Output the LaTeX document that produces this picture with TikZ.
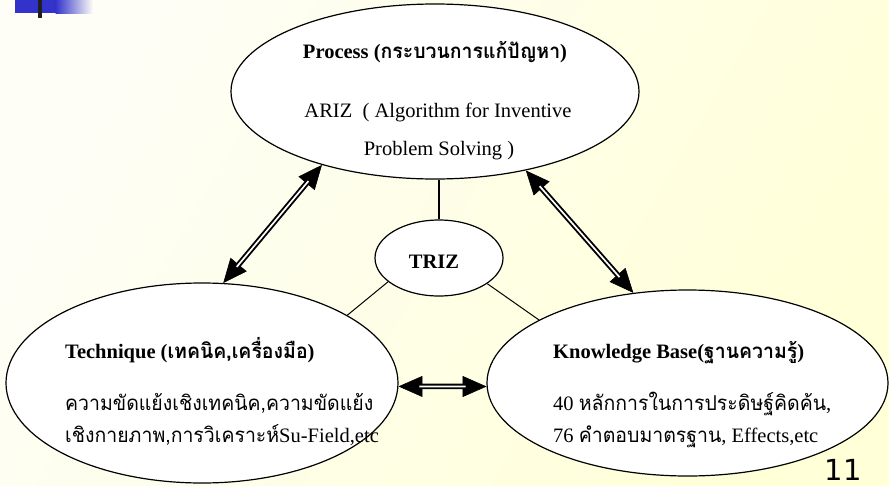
\documentclass[tikz,border=0pt]{standalone}
\usepackage{fontspec}
\setmainfont{Liberation Serif}
\newfontfamily\thai[Script=Thai,FakeStretch=0.95]{Loma}
\newfontfamily\numfont{DejaVu Sans}
\usetikzlibrary{shapes.geometric,arrows.meta}
\definecolor{bgL}{RGB}{254,254,246}
\definecolor{bgR}{RGB}{255,255,216}
\definecolor{barblue}{RGB}{51,51,204}
\tikzset{
  bubble/.style={ellipse, draw=black, line width=1.2pt, fill=white, inner sep=0pt},
  txt/.style={inner sep=0pt, font=\fontsize{20.5}{24}\selectfont},
  btxt/.style={inner sep=0pt, font=\fontsize{20.5}{24}\selectfont\bfseries},
  thinline/.style={draw=black, line width=1pt},
  tipline/.style={{Triangle[length=24pt,width=21pt]}-{Triangle[length=24pt,width=21pt]}, line width=0.6pt},
  shaft/.style={double=white, draw=black, line width=1.9pt, double distance=1.7pt, shorten <=21pt, shorten >=21pt}
}
\begin{document}
\begin{tikzpicture}[x=1pt,y=-1pt]
\useasboundingbox (0,0) rectangle (889,485);
\shade[left color=bgL, right color=bgR, shading angle=60] (0,0) rectangle (889,485);
% top-left bar
\fill[barblue] (15,0) rectangle (56,13);
\shade[left color=barblue, right color=bgL] (55.5,0) rectangle (93,13);
\fill[black!88] (38,0) rectangle (42,18);

% ellipses
\node[bubble, minimum width=408pt, minimum height=175pt] (proc) at (435,91.5) {};
\node[bubble, minimum width=128pt, minimum height=76pt] (triz) at (439,258) {};
\node[bubble, minimum width=392pt, minimum height=200pt] (tech) at (202,383) {};
\node[bubble, minimum width=401pt, minimum height=186pt] (know) at (687.5,383) {};

% texts
\node[btxt, anchor=base] (ph) at (435,58) {Process ({\thai กระบวนการแก้ปัญหา})};
\node[txt, anchor=base] (p1) at (438,117) {ARIZ\ \ ( Algorithm for Inventive};
\node[txt, anchor=base] (p2) at (439,155) {Problem Solving )};
\node[btxt, anchor=base] (tz) at (434,268) {TRIZ};
\node[btxt, anchor=base west] (th) at (65,358) {Technique ({\thai เทคนิค,เครื่องมือ})};
\node[txt, anchor=base west] (t1) at (65,410) {{\thai ความขัดแย้งเชิงเทคนิค,ความขัดแย้ง}};
\node[txt, anchor=base west] (t2) at (65,442) {{\thai เชิงกายภาพ,การวิเคราะห์}Su-Field,etc};
\node[btxt, anchor=base west] (kh) at (553,358) {Knowledge Base({\thai ฐานความรู้})};
\node[txt, anchor=base west] (k1) at (553,410) {40 {\thai หลักการในการประดิษฐ์คิดค้น},};
\node[txt, anchor=base west] (k2) at (553,442) {76 {\thai คำตอบมาตรฐาน}, Effects,etc};
\node[anchor=base east, inner sep=0pt, font=\numfont\fontsize{29}{30}\selectfont] (pnum) at (862,480.5) {11};

% thin connectors
\draw[thinline, line width=1.4pt] (triz.north |- proc.south) -- (triz.north);
\draw[thinline] (triz.205.7) -- (tech.25.6);
\draw[thinline] (triz.332.5) -- (know.157.8);

% double arrows
\draw[tipline] (tech.78.3) -- (proc.213.6);
\draw[shaft] (tech.78.3) -- (proc.213.6);
\draw[tipline] (proc.319.1) -- (know.121.7);
\draw[shaft] (proc.319.1) -- (know.121.7);
\draw[tipline] (tech.-1.5) -- (know.181.4);
\draw[shaft] (tech.-1.5) -- (know.181.4);
\end{tikzpicture}
\end{document}
